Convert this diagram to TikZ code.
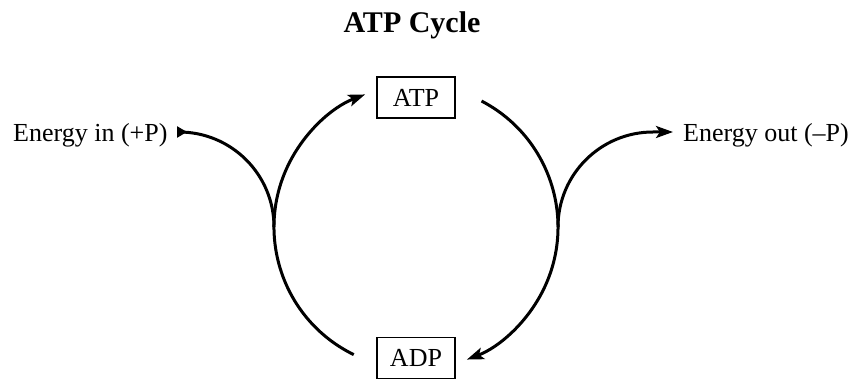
\documentclass[tikz,border=0pt]{standalone}
\usepackage{fontspec}
\setmainfont{Liberation Serif}
\usetikzlibrary{arrows.meta}
\begin{document}
\begin{tikzpicture}[x=1pt,y=1pt,
  lbl/.style={inner sep=0pt,font=\fontsize{26}{30}\selectfont},
  molbox/.style={draw,line width=1.3pt,minimum width=78pt,minimum height=41pt,inner sep=0pt,font=\fontsize{26}{30}\selectfont},
  flow/.style={line width=3pt},
  tip/.style={-{Stealth[length=17pt,width=12pt,inset=4pt]}},
  intip/.style={{Triangle[reversed,length=10pt,width=11pt]}-}]
\useasboundingbox (0,0) rectangle (852,380);
\node[lbl,font=\bfseries\fontsize{30}{36}\selectfont,anchor=base] (title) at (412,347) {ATP Cycle};
\node[molbox] (atp) at (416,282.5) {ATP};
\node[molbox] (adp) at (416,22) {ADP};
\node[lbl,anchor=base west] (ein) at (13,238) {Energy in (+P)};
\node[lbl,anchor=base west] (eout) at (683,238) {Energy out (–P)};
\coordinate (c) at (416,153);
\path (c) ++(244:142) coordinate (lstart);
\path (c) ++(62.5:142) coordinate (rstart);
\path (c) ++(0:142) coordinate (rmid);
\coordinate (inend) at (177,248);
\coordinate (outend) at (673,248);
% left arc ADP -> ATP
\draw[flow,tip] (lstart) arc[start angle=244,end angle=111,radius=142];
% right arc ATP -> ADP
\draw[flow,tip] (rstart) arc[start angle=62.5,end angle=-69,radius=142];
% energy in branch
\draw[flow,intip] (inend) -- (179,248) arc[start angle=90,end angle=0,radius=95];
% energy out branch
\draw[flow,tip] (rmid) arc[start angle=180,end angle=90,radius=95] -- (outend);
\end{tikzpicture}
\end{document}
